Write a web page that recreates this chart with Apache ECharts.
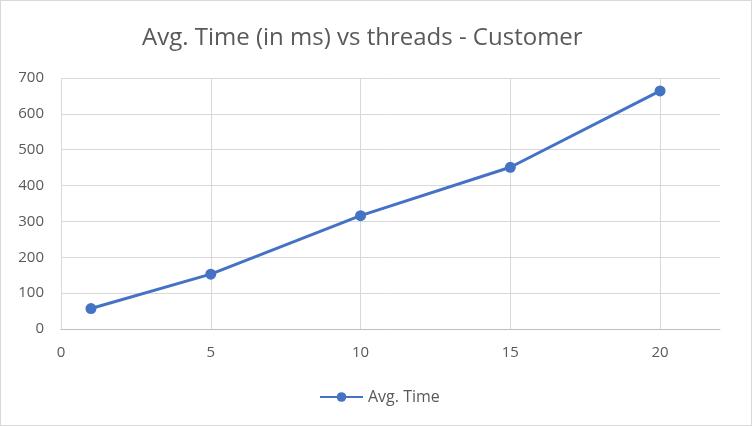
<!DOCTYPE html>
<html>
<head>
<meta charset="utf-8">
<script src="https://cdn.jsdelivr.net/npm/echarts@6/dist/echarts.min.js"></script>
<style>
html,body{margin:0;padding:0;background:#fff;}
#wrap{position:absolute;left:0;top:0;width:750px;height:424px;border:1px solid #d9d9d9;background:#fff;}
#chart{width:750px;height:424px;}
</style>
</head>
<body>
<div id="wrap"><div id="chart"></div></div>
<script>
const threads = [1, 5, 10, 15, 20];
const avgTime = [57, 153, 316, 451, 664];
const seriesName = 'Avg. Time';
const titleText = 'Avg. Time (in ms) vs threads - Customer';

const data = threads.map((t, i) => [t, avgTime[i]]);
const chart = echarts.init(document.getElementById('chart'));
const font = '"Open Sans", "Noto Sans", sans-serif';
chart.setOption({
  animation: false,
  title: {
    text: titleText,
    left: 136,
    top: 20,
    textStyle: {fontFamily: font, fontSize: 24, fontWeight: 'normal', color: '#595959'}
  },
  legend: {
    top: 383,
    left: 313,
    itemWidth: 43,
    itemHeight: 12,
    itemGap: 10,
    textStyle: {fontFamily: font, fontSize: 16, color: '#595959'},
    data: [seriesName]
  },
  grid: {left: 60, right: 31, top: 77, bottom: 96, containLabel: false},
  xAxis: {
    type: 'value',
    min: 0, max: 22, interval: 5,
    axisLine: {show: true, onZero: false, lineStyle: {color: '#bfbfbf', width: 1}},
    axisTick: {show: false},
    axisLabel: {
      fontFamily: font, fontSize: 15, color: '#595959', margin: 16,
      showMaxLabel: false,
      formatter: v => (v % 5 === 0 ? String(v) : '')
    },
    splitLine: {show: true, lineStyle: {color: ['#d9d9d9','#d9d9d9','#d9d9d9','#d9d9d9','#d9d9d9','rgba(0,0,0,0)'], width: 1}}
  },
  yAxis: {
    type: 'value',
    min: 0, max: 700, interval: 100,
    axisLine: {show: false},
    axisTick: {show: false},
    axisLabel: {fontFamily: font, fontSize: 15, color: '#595959', margin: 17},
    splitLine: {show: true, lineStyle: {color: '#d9d9d9', width: 1}}
  },
  series: [{
    name: seriesName,
    type: 'line',
    data: data,
    symbol: 'circle',
    symbolSize: 11,
    lineStyle: {color: '#4472c4', width: 3},
    itemStyle: {color: '#4472c4'}
  }]
});
</script>
</body>
</html>
